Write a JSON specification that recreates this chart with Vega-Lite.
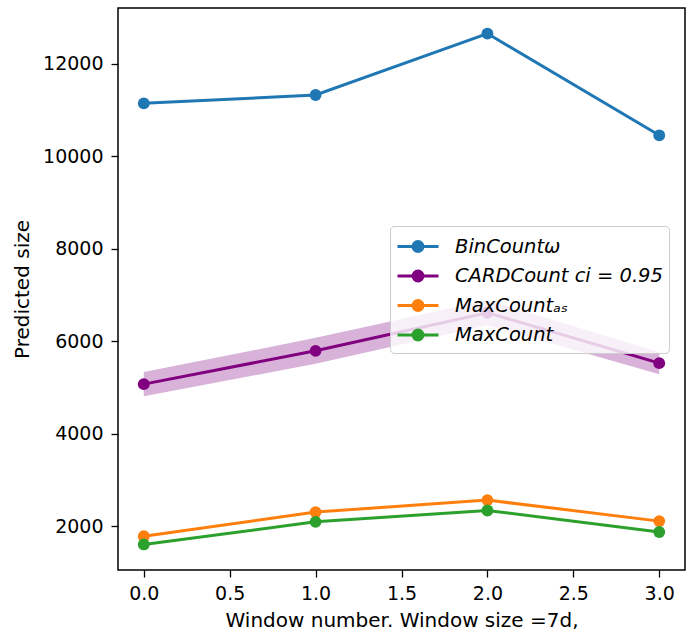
{
  "$schema": "https://vega.github.io/schema/vega-lite/v6.json",
  "width": 567,
  "height": 562,
  "autosize": "none",
  "padding": {"left": 118, "top": 8, "right": 11, "bottom": 65},
  "background": "white",
  "config": {
    "view": {"stroke": "black", "strokeWidth": 1.5},
    "font": "DejaVu Sans",
    "axis": {
      "grid": false,
      "domain": false,
      "tickColor": "black",
      "tickWidth": 1.3,
      "tickSize": 7,
      "labelFont": "DejaVu Sans",
      "labelFontSize": 19,
      "labelColor": "black",
      "titleFont": "DejaVu Sans",
      "titleFontSize": 20,
      "titleFontWeight": "normal",
      "titleColor": "black"
    }
  },
  "datasets": {
    "series": [
      {"series": "BinCount", "x": 0, "y": 11140},
      {"series": "BinCount", "x": 1, "y": 11320},
      {"series": "BinCount", "x": 2, "y": 12648},
      {"series": "BinCount", "x": 3, "y": 10450},
      {"series": "CARDCount", "x": 0, "y": 5074},
      {"series": "CARDCount", "x": 1, "y": 5794},
      {"series": "CARDCount", "x": 2, "y": 6617},
      {"series": "CARDCount", "x": 3, "y": 5528},
      {"series": "MaxCountAS", "x": 0, "y": 1790},
      {"series": "MaxCountAS", "x": 1, "y": 2310},
      {"series": "MaxCountAS", "x": 2, "y": 2569},
      {"series": "MaxCountAS", "x": 3, "y": 2115},
      {"series": "MaxCount", "x": 0, "y": 1611},
      {"series": "MaxCount", "x": 1, "y": 2100},
      {"series": "MaxCount", "x": 2, "y": 2345},
      {"series": "MaxCount", "x": 3, "y": 1880}
    ],
    "band": [
      {"x": 0, "lo": 4814, "hi": 5334},
      {"x": 1, "lo": 5514, "hi": 6074},
      {"x": 2, "lo": 6347, "hi": 6887},
      {"x": 3, "lo": 5288, "hi": 5768}
    ]
  },
  "layer": [
    {
      "data": {"name": "band"},
      "mark": {"type": "area", "color": "#800080", "opacity": 0.3},
      "encoding": {
        "x": {"field": "x", "type": "quantitative"},
        "y": {"field": "lo", "type": "quantitative"},
        "y2": {"field": "hi"}
      }
    },
    {
      "data": {"name": "series"},
      "mark": {"type": "line", "strokeWidth": 3},
      "encoding": {
        "x": {"field": "x", "type": "quantitative"},
        "y": {"field": "y", "type": "quantitative"},
        "color": {"field": "series", "type": "nominal"}
      }
    },
    {
      "data": {"name": "series"},
      "mark": {"type": "point", "filled": true, "size": 140, "opacity": 1},
      "encoding": {
        "x": {
          "field": "x", "type": "quantitative",
          "scale": {"domain": [-0.15, 3.15], "nice": false, "zero": false},
          "axis": {"values": [0, 0.5, 1, 1.5, 2, 2.5, 3], "format": ".1f", "labelPadding": 7, "title": "Window number. Window size =7d,", "titlePadding": 7}
        },
        "y": {
          "field": "y", "type": "quantitative",
          "scale": {"domain": [1059, 13200], "nice": false, "zero": false},
          "axis": {"values": [2000, 4000, 6000, 8000, 10000, 12000], "format": "d", "labelPadding": 8, "title": "Predicted size", "titlePadding": 10}
        },
        "color": {
          "field": "series", "type": "nominal",
          "scale": {
            "domain": ["BinCount", "CARDCount", "MaxCountAS", "MaxCount"],
            "range": ["#1f77b4", "#800080", "#ff7f0e", "#2ca02c"]
          },
          "legend": {
            "title": null,
            "orient": "none",
            "legendX": 272,
            "legendY": 218,
            "padding": 6,
            "rowPadding": 3.5,
            "fillColor": "rgba(255,255,255,0.8)",
            "strokeColor": "#cccccc",
            "cornerRadius": 4,
            "symbolType": "M-1,0L2.154,0M0.192,0A0.385,0.385,0,1,1,0.962,0A0.385,0.385,0,1,1,0.192,0Z",
            "symbolSize": 676,
            "symbolStrokeWidth": 3,
            "symbolOpacity": 1,
            "labelOffset": 30,
            "labelFont": "DejaVu Sans",
            "labelFontSize": 19.5,
            "labelFontStyle": "italic",
            "labelColor": "black",
            "labelLimit": 400,
            "labelExpr": "datum.value == 'BinCount' ? 'BinCountω' : datum.value == 'CARDCount' ? 'CARDCount ci = 0.95' : datum.value == 'MaxCountAS' ? 'MaxCountₐₛ' : 'MaxCount'",
            "encode": {
              "symbols": {"update": {"fill": {"scale": "color", "field": "value"}, "stroke": {"scale": "color", "field": "value"}}}
            }
          }
        }
      }
    }
  ]
}
